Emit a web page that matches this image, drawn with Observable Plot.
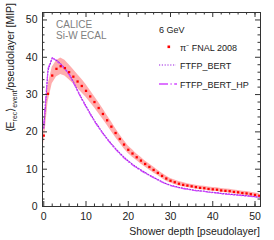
<!DOCTYPE html>
<html><head><meta charset="utf-8">
<script src="https://cdn.jsdelivr.net/npm/d3@7"></script>
<script src="https://cdn.jsdelivr.net/npm/@observablehq/plot@0.6"></script>
<style>body{margin:0;background:#fff} svg{display:block}</style>
</head><body><div id="chart"></div>
<script>
// Shower depth [pseudolayer]
const layers = [0,1,2,3,4,5,6,7,8,9,10,11,12,13,14,15,16,17,18,19,20,21,22,23,24,25,26,27,28,29,30,31,32,33,34,35,36,37,38,39,40,41,42,43,44,45,46,47,48,49,50,51];
// pi- FNAL 2008 data
const dataVals = [19,30.2,35.1,36.9,37.6,37.1,36,34.8,33.5,32.3,31,29.5,28,26.4,24.8,23.1,21.4,19.7,18.1,16.6,15.2,14.2,13.2,12.3,11.4,10.6,9.8,9.0,8.2,7.5,6.9,6.5,6.1,5.8,5.6,5.4,5.2,5.0,4.9,4.7,4.6,4.5,4.3,4.2,4.1,3.9,3.8,3.6,3.5,3.3,3.1,2.9];
// systematic band half-width
const dataErr = [2.6,2.3,2.2,2.2,2.2,2.1,2.0,1.9,1.9,1.8,1.7,1.6,1.5,1.5,1.4,1.3,1.3,1.2,1.1,1.1,1.0,1.0,0.9,0.9,0.8,0.8,0.8,0.7,0.7,0.7,0.6,0.6,0.6,0.6,0.5,0.5,0.5,0.5,0.5,0.5,0.5,0.5,0.5,0.5,0.5,0.5,0.5,0.5,0.5,0.5,0.5,0.5];
// FTFP_BERT
const bertVals = [21,36.5,39.8,39.2,38.2,37.0,35.5,33.4,31.1,28.9,26.9,24.9,23,21.3,19.7,18.2,16.8,15.5,14.3,13.2,12.2,11.3,10.5,9.8,9.1,8.4,7.8,7.2,6.6,6.1,5.7,5.4,5.1,4.9,4.7,4.5,4.3,4.2,4.1,3.9,3.8,3.7,3.5,3.4,3.3,3.2,3.1,3.0,2.9,2.8,2.6,2.5];
// FTFP_BERT_HP
const hpVals = [22,37,39.9,39.0,38.0,36.8,35.3,33.2,30.9,28.7,26.7,24.7,22.8,21.1,19.5,18.0,16.6,15.3,14.1,13.0,12.0,11.1,10.3,9.6,8.9,8.3,7.7,7.1,6.5,6.0,5.6,5.3,5.0,4.8,4.6,4.4,4.2,4.1,4.0,3.8,3.7,3.6,3.4,3.3,3.2,3.1,3.0,2.9,2.8,2.7,2.6,2.5];

const xMajor = [0,10,20,30,40,50];
const xMinor = [2,4,6,8,12,14,16,18,22,24,26,28,32,34,36,38,42,44,46,48,50];
const yMajor = [0,10,20,30,40,50];
const yMinor = [2,4,6,8,12,14,16,18,22,24,26,28,32,34,36,38,42,44,46,48,52];

const dataTable = layers.map((l,i)=>({layer:l, v:dataVals[i], lo:dataVals[i]-dataErr[i], hi:dataVals[i]+dataErr[i]}));
const bertTable = layers.map((l,i)=>({layer:l, v:bertVals[i]}));
const hpTable = layers.map((l,i)=>({layer:l, v:hpVals[i]}));

const W = 274, H = 240, mL = 42, mR = 14, mT = 12, mB = 34;
const iw = W - mL - mR, ih = H - mT - mB;
const axisColor = "#333";

const chart = Plot.plot({
  width: W, height: H,
  marginLeft: mL, marginRight: mR, marginTop: mT, marginBottom: mB,
  style: {fontFamily: "'Liberation Sans', Arial, sans-serif", fontSize: "10.5px", color: "#222", background: "#fff"},
  x: {domain: [-0.3, 51.3], axis: null},
  y: {domain: [0, 52], axis: null},
  marks: [
    Plot.areaY(dataTable, {x: "layer", y1: "lo", y2: "hi", fill: "#ff6a6a", fillOpacity: 0.55}),
    Plot.line(bertTable, {x: "layer", y: "v", stroke: "#9a1fe0", strokeWidth: 1.2, strokeDasharray: "1.2,1.6"}),
    Plot.line(hpTable, {x: "layer", y: "v", stroke: "#d248ff", strokeWidth: 1.1, strokeDasharray: "5,2.5,1.2,2.5"}),
    Plot.dot(dataTable, {x: "layer", y: "v", symbol: "square", r: 1.3, fill: "#ff0000", stroke: null}),
    Plot.frame({stroke: axisColor, strokeWidth: 1}),
    // inward ticks
    Plot.tickX(xMajor, {x: d => d, insetTop: ih - 5, stroke: axisColor}),
    Plot.tickX(xMinor, {x: d => d, insetTop: ih - 2.5, stroke: axisColor}),
    Plot.tickX(xMajor, {x: d => d, insetBottom: ih - 5, stroke: axisColor}),
    Plot.tickX(xMinor, {x: d => d, insetBottom: ih - 2.5, stroke: axisColor}),
    Plot.tickY(yMajor, {y: d => d, insetRight: iw - 5, stroke: axisColor}),
    Plot.tickY(yMinor, {y: d => d, insetRight: iw - 2.5, stroke: axisColor}),
    Plot.tickY(yMajor, {y: d => d, insetLeft: iw - 5, stroke: axisColor}),
    Plot.tickY(yMinor, {y: d => d, insetLeft: iw - 2.5, stroke: axisColor}),
    // tick labels
    Plot.axisX(xMajor, {anchor: "bottom", tickSize: 0, tickPadding: 6, label: null, fill: "#222"}),
    Plot.axisY(yMajor, {anchor: "left", tickSize: 0, tickPadding: 5, label: null, fill: "#222"})
  ]
});
document.getElementById("chart").appendChild(chart);

const svg = d3.select(chart);
const font = "'Liberation Sans', Arial, sans-serif";
// axis titles
svg.append("text").attr("x", W - mR).attr("y", 235).attr("text-anchor", "end")
  .attr("font-family", font).attr("font-size", 10.5).attr("fill", "#222")
  .text("Shower depth [pseudolayer]");
const yl = svg.append("text").attr("transform", "translate(14,3) rotate(-90)").attr("text-anchor", "end")
  .attr("font-family", font).attr("font-size", 10.5).attr("fill", "#222");
yl.append("tspan").text("\u27E8E");
yl.append("tspan").attr("dy", 3).attr("font-size", 7).text("rec");
yl.append("tspan").attr("dy", -3).text("\u27E9");
yl.append("tspan").attr("dy", 3).attr("font-size", 7).text("event");
yl.append("tspan").attr("dy", -3).text("/pseudolayer [MIP]");
// CALICE label
const cl = svg.append("g").attr("font-family", font).attr("font-size", 10).attr("fill", "#808080").attr("text-anchor", "start");
cl.append("text").attr("x", 56).attr("y", 28).text("CALICE");
cl.append("text").attr("x", 56).attr("y", 39).text("Si-W ECAL");
// legend
const lg = svg.append("g").attr("font-family", font).attr("font-size", 9).attr("fill", "#222").attr("text-anchor", "start");
lg.append("text").attr("x", 159).attr("y", 33).text("6 GeV");
lg.append("rect").attr("x", 167.5).attr("y", 45.5).attr("width", 2.6).attr("height", 2.6).attr("fill", "#ff0000");
lg.append("text").attr("x", 180).attr("y", 50.5).text("\u03C0\u207B FNAL 2008");
lg.append("line").attr("x1", 159).attr("x2", 176).attr("y1", 65).attr("y2", 65).attr("stroke", "#9a1fe0").attr("stroke-width", 1.2).attr("stroke-dasharray", "1.2,1.6");
lg.append("text").attr("x", 180).attr("y", 68.5).text("FTFP_BERT");
lg.append("line").attr("x1", 159).attr("x2", 177).attr("y1", 84).attr("y2", 84).attr("stroke", "#d248ff").attr("stroke-width", 1.4).attr("stroke-dasharray", "9,2.5,1.2,2.5");
lg.append("text").attr("x", 180).attr("y", 87.5).text("FTFP_BERT_HP");
</script>
</body></html>
